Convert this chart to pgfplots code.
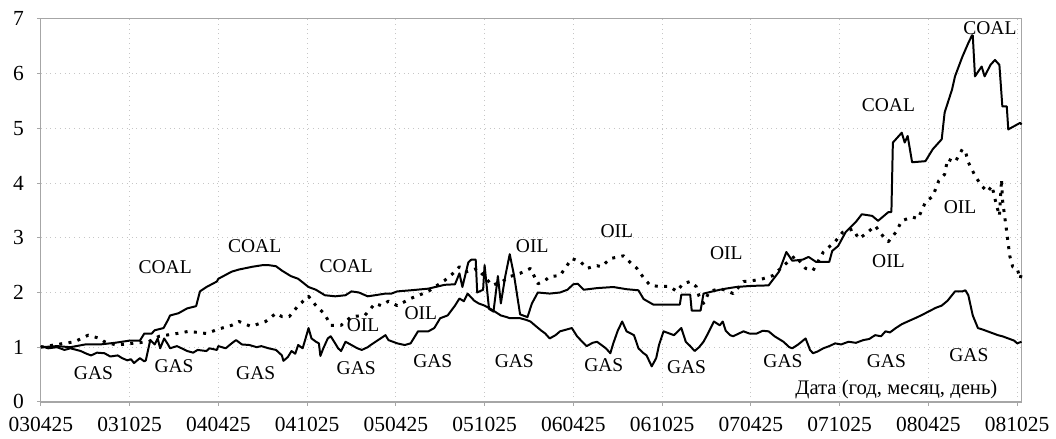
\documentclass[border=0pt]{standalone}
\usepackage{fontspec}
\setmainfont{Liberation Serif}
\usepackage{pgfplots}
\pgfplotsset{compat=1.18}

% Relative price indices of coal, oil and gas (x: months since 25.04.2003)
\begin{document}
\begin{tikzpicture}[
  lab/.style={font=\fontsize{9.8}{11}\selectfont, inner sep=0pt}]
\begin{axis}[
  scale only axis,
  width=493pt, height=192.5pt,
  xmin=0, xmax=66.31, ymin=0, ymax=7,
  xtick={0,6,...,66},
  xticklabels={030425,031025,040425,041025,050425,051025,060425,061025,070425,071025,080425,081025},
  ytick={0,1,...,7},
  grid=major,
  major grid style={gray!45, dotted, line width=0.5pt},
  axis line style={gray!70, line width=0.6pt},
  tick style={gray!70, line width=0.5pt},
  tick align=outside,
  major tick length=2pt,
  xtick pos=bottom, ytick pos=left,
  ticklabel style={font=\fontsize{10.8}{12}\selectfont},
  /pgf/number format/assume math mode=true,
  yticklabel style={xshift=-3pt},
  xticklabel style={yshift=-2pt},
  clip=false,
  every axis plot/.append style={line join=round},
]
% page frame
\path (rel axis cs:-0.04158,-0.09351) rectangle (rel axis cs:1.02941,1.04935);

% COAL
\addplot[black, line width=1pt] coordinates {
(0,1.00) (1.1,1.02) (2.0,1.00) (3.0,1.05) (4.0,1.05) (5.0,1.08) (6.0,1.12)
(6.7,1.12) (7.0,1.25) (7.5,1.25) (7.7,1.31) (8.3,1.35) (8.6,1.50) (8.74,1.58)
(9.3,1.62) (9.9,1.71) (10.5,1.75) (10.76,2.02) (11.2,2.10) (11.9,2.20) (12.0,2.25)
(12.9,2.38) (13.4,2.42) (14.3,2.47) (15.0,2.50) (15.4,2.50) (15.9,2.48) (16.3,2.40)
(16.9,2.30) (17.4,2.25) (18.1,2.10) (18.6,2.05) (19.2,1.95) (19.9,1.93) (20.6,1.95)
(21.0,2.02) (21.5,2.00) (22.1,1.93) (22.6,1.95) (23.3,1.98) (23.7,1.98) (24.1,2.02)
(25.0,2.04) (26.2,2.07) (27.3,2.14) (28.0,2.15) (28.3,2.35) (28.5,2.10) (28.9,2.55)
(29.1,2.60) (29.4,2.60) (29.5,2.00) (29.9,2.05) (30.0,2.50) (30.3,1.70) (30.6,1.65)
(30.9,2.30) (31.1,1.80) (31.4,2.30) (31.7,2.70) (32.0,2.30) (32.4,1.60) (32.9,1.55)
(33.2,1.80) (33.6,2.00) (34.4,1.98) (35.1,2.00) (35.6,2.05) (36.0,2.15) (36.3,2.16)
(36.7,2.05) (37.6,2.08) (38.7,2.10) (39.6,2.06) (40.4,2.04) (40.75,1.88) (41.4,1.78)
(43.2,1.78) (43.3,1.96) (43.9,1.96) (44.0,1.67) (44.6,1.67) (44.8,1.98) (45.9,2.05)
(46.3,2.07) (47.0,2.10) (48.0,2.12) (49.2,2.13) (49.9,2.38) (50.4,2.74) (50.8,2.58)
(51.5,2.60) (51.9,2.65) (52.4,2.56) (53.3,2.56) (53.5,2.76) (53.9,2.85) (54.4,3.10)
(55.1,3.29) (55.5,3.43) (56.2,3.40) (56.6,3.31) (57.3,3.47) (57.5,3.47) (57.6,4.74)
(58.2,4.92) (58.4,4.74) (58.6,4.86) (58.9,4.38) (59.8,4.40) (60.3,4.62) (60.9,4.80)
(61.1,5.29) (61.6,5.71) (61.8,5.95) (62.3,6.31) (62.7,6.56) (62.95,6.70) (63.0,6.70)
(63.15,5.95) (63.6,6.13) (63.8,5.95) (64.2,6.16) (64.5,6.25) (64.8,6.16) (65.0,5.40)
(65.3,5.40) (65.4,4.98) (65.8,5.04) (66.2,5.10) (66.3,5.07)
};

% OIL
\addplot[black, line width=1.5pt, dash pattern=on 1.5pt off 3.2pt] coordinates {
(0,1.00) (1.1,1.05) (2.3,1.10) (3.2,1.22) (4.0,1.16) (4.3,1.10) (5.1,1.04)
(6.2,1.07) (7.3,1.10) (8.0,1.20) (9.2,1.25) (10.0,1.29) (11.2,1.25) (12.0,1.33)
(12.9,1.40) (13.4,1.47) (14.2,1.38) (15.2,1.47) (15.9,1.62) (16.3,1.56) (16.8,1.56)
(17.4,1.76) (18.1,1.93) (18.6,1.76) (19.2,1.60) (19.6,1.40) (20.3,1.40) (21.0,1.56)
(21.9,1.58) (22.6,1.80) (23.0,1.76) (23.5,1.84) (24.1,1.76) (25.0,1.89) (26.2,2.02)
(26.8,2.13) (27.3,2.22) (28.0,2.38) (28.3,2.47) (28.8,2.38) (29.5,2.44) (30.0,2.29)
(30.5,2.13) (31.2,2.20) (31.7,2.29) (32.4,2.35) (33.1,2.44) (33.6,2.16) (34.0,2.20)
(34.4,2.29) (35.1,2.31) (35.9,2.62) (36.5,2.56) (36.9,2.44) (37.6,2.49) (37.9,2.47)
(38.5,2.62) (39.4,2.67) (39.8,2.56) (40.3,2.44) (40.8,2.25) (41.2,2.13) (41.8,2.11)
(42.5,2.11) (43.0,2.02) (43.4,2.16) (43.9,2.20) (44.3,2.11) (44.5,1.93) (44.8,1.80)
(45.2,2.02) (45.9,2.07) (46.3,2.04) (46.8,1.98) (47.5,2.20) (48.2,2.22) (48.8,2.25)
(49.5,2.31) (50.2,2.49) (51.0,2.67) (51.7,2.44) (52.2,2.40) (52.9,2.74) (53.7,2.93)
(54.2,3.10) (54.9,3.16) (55.3,2.98) (55.9,3.10) (56.4,3.22) (56.9,3.04) (57.3,2.93)
(57.8,3.10) (58.2,3.31) (58.9,3.38) (59.3,3.35) (59.8,3.65) (60.3,3.76) (60.7,4.04)
(61.1,4.16) (61.3,4.44) (61.8,4.38) (62.3,4.62) (62.5,4.58) (62.7,4.38) (63.2,4.11)
(63.6,3.95) (64.0,3.84) (64.3,3.95) (64.5,3.71) (64.8,3.40) (64.95,4.07) (65.0,3.71)
(65.3,3.10) (65.5,2.67) (65.7,2.47) (66.0,2.44) (66.2,2.25) (66.3,2.35)
};

% GAS
\addplot[black, line width=1pt] coordinates {
(0,1.02) (0.5,0.98) (1.1,1.00) (1.6,0.95) (2.0,0.98) (2.7,0.93) (3.1,0.88)
(3.4,0.85) (3.8,0.90) (4.3,0.89) (4.7,0.83) (5.2,0.85) (5.5,0.80) (5.85,0.76)
(6.1,0.78) (6.3,0.71) (6.7,0.80) (7.0,0.74) (7.1,0.76) (7.4,1.13) (7.7,1.05)
(7.9,1.16) (8.07,0.98) (8.34,1.16) (8.6,1.05) (8.74,0.98) (9.2,1.02) (9.6,0.97)
(9.9,0.93) (10.3,0.90) (10.6,0.95) (11.2,0.93) (11.4,0.98) (11.9,0.95) (12.0,1.02)
(12.5,0.98) (12.9,1.07) (13.2,1.13) (13.6,1.05) (14.1,1.04) (14.6,1.00) (14.9,1.02)
(15.4,0.98) (15.9,0.95) (16.3,0.85) (16.4,0.75) (16.7,0.82) (16.95,0.93) (17.2,0.88)
(17.4,1.04) (17.7,0.98) (17.9,1.16) (18.1,1.35) (18.3,1.16) (18.6,1.10) (18.8,1.07)
(18.9,0.84) (19.1,0.98) (19.4,1.16) (19.6,1.20) (19.9,1.07) (20.1,0.98) (20.3,0.93)
(20.6,1.10) (21.0,1.04) (21.4,0.98) (21.7,0.95) (22.1,1.00) (22.3,1.04) (22.8,1.13)
(23.3,1.22) (23.5,1.13) (24.1,1.07) (24.6,1.04) (25.0,1.07) (25.5,1.29) (26.2,1.29)
(26.6,1.35) (27.0,1.53) (27.5,1.58) (28.0,1.76) (28.3,1.89) (28.6,1.84) (28.85,1.98)
(29.3,1.85) (29.6,1.80) (30.0,1.76) (30.4,1.70) (30.7,1.65) (31.1,1.58) (31.5,1.55)
(31.7,1.53) (32.4,1.53) (32.8,1.50) (33.1,1.47) (33.4,1.40) (33.8,1.31) (34.1,1.25)
(34.4,1.16) (34.8,1.22) (35.1,1.29) (35.5,1.32) (35.9,1.35) (36.25,1.20) (36.6,1.10)
(36.9,1.02) (37.3,1.08) (37.6,1.10) (37.9,1.04) (38.2,0.98) (38.5,0.89) (38.7,1.07)
(39.0,1.30) (39.3,1.47) (39.6,1.29) (40.1,1.22) (40.4,0.98) (40.7,0.90) (40.95,0.85)
(41.3,0.65) (41.6,0.80) (41.8,1.05) (42.1,1.29) (42.5,1.25) (42.8,1.22) (43.3,1.35)
(43.6,1.10) (43.9,1.02) (44.2,0.93) (44.5,1.00) (44.8,1.10) (45.1,1.25) (45.5,1.47)
(45.9,1.40) (46.1,1.47) (46.3,1.30) (46.6,1.22) (46.8,1.20) (47.5,1.29) (47.9,1.25)
(48.4,1.25) (48.8,1.30) (49.2,1.29) (49.6,1.20) (50.2,1.10) (50.6,1.00) (50.8,0.98)
(51.2,1.05) (51.7,1.16) (52.0,0.95) (52.2,0.89) (52.5,0.92) (52.9,0.98) (53.3,1.02)
(53.7,1.07) (54.1,1.05) (54.6,1.10) (55.1,1.08) (55.6,1.13) (56.0,1.15) (56.4,1.22)
(56.8,1.20) (57.1,1.29) (57.4,1.27) (57.8,1.35) (58.2,1.42) (58.6,1.47) (59.1,1.53)
(59.5,1.58) (60.0,1.65) (60.5,1.72) (60.9,1.76) (61.3,1.85) (61.8,2.02) (62.3,2.02)
(62.5,2.04) (62.7,1.95) (63.0,1.58) (63.35,1.35) (63.7,1.32) (64.0,1.29) (64.4,1.25)
(64.7,1.22) (65.0,1.20) (65.4,1.16) (65.8,1.12) (66.0,1.07) (66.3,1.10)
};

% series names along the curves
\node[lab] at (axis cs:8.41,2.47) {COAL};
\node[lab] at (axis cs:14.46,2.85) {COAL};
\node[lab] at (axis cs:20.65,2.49) {COAL};
\node[lab] at (axis cs:57.30,5.42) {COAL};
\node[lab] at (axis cs:64.16,6.84) {COAL};

\node[lab] at (axis cs:21.79,1.40) {OIL};
\node[lab] at (axis cs:25.69,1.62) {OIL};
\node[lab] at (axis cs:33.22,2.84) {OIL};
\node[lab] at (axis cs:38.94,3.13) {OIL};
\node[lab] at (axis cs:46.34,2.71) {OIL};
\node[lab] at (axis cs:57.30,2.58) {OIL};
\node[lab] at (axis cs:62.14,3.56) {OIL};

\node[lab] at (axis cs:3.56,0.53) {GAS};
\node[lab] at (axis cs:9.01,0.65) {GAS};
\node[lab] at (axis cs:14.53,0.53) {GAS};
\node[lab] at (axis cs:21.32,0.62) {GAS};
\node[lab] at (axis cs:26.50,0.75) {GAS};
\node[lab] at (axis cs:32.01,0.75) {GAS};
\node[lab] at (axis cs:38.06,0.67) {GAS};
\node[lab] at (axis cs:43.65,0.64) {GAS};
\node[lab] at (axis cs:50.17,0.75) {GAS};
\node[lab] at (axis cs:57.16,0.75) {GAS};
\node[lab] at (axis cs:62.74,0.85) {GAS};

\node[lab, anchor=east, font=\fontsize{10.4}{12}\selectfont] at (axis cs:64.69,0.22) {Дата (год, месяц, день)};
\end{axis}
\end{tikzpicture}
\end{document}
